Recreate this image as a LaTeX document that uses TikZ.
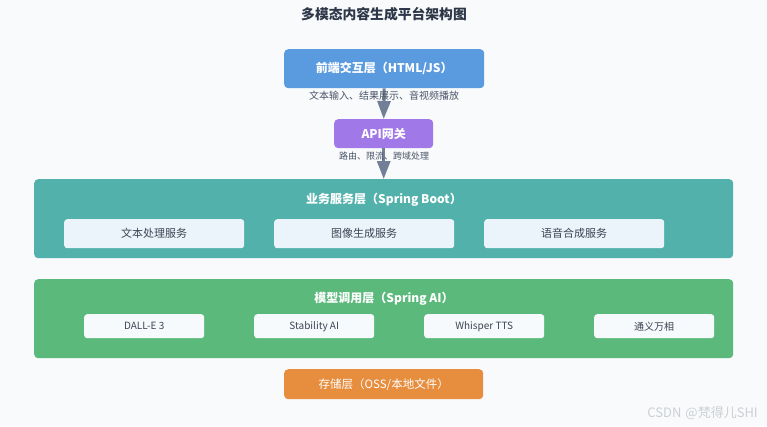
\documentclass[tikz,border=0pt]{standalone}
\usepackage{fontspec}
\setmainfont{Noto Sans CJK SC}
\usetikzlibrary{arrows.meta}
\definecolor{bg}{HTML}{F8FAFC}
\definecolor{titlec}{HTML}{2D3748}
\definecolor{frontc}{HTML}{5A9BE0}
\definecolor{apic}{HTML}{A078E8}
\definecolor{bizc}{HTML}{52B1AB}
\definecolor{modelc}{HTML}{5BBA7B}
\definecolor{storec}{HTML}{E68D3E}
\definecolor{bizsub}{HTML}{EBF4FA}
\definecolor{modsub}{HTML}{F7FAFC}
\definecolor{labelc}{HTML}{4A5568}
\definecolor{arrowc}{HTML}{718096}
\definecolor{wmc}{HTML}{CDD0D3}
\tikzset{
  box/.style={rounded corners=4pt, inner sep=0pt, font=\bfseries\fontsize{12}{14}\selectfont, text=white},
  subbox/.style={rounded corners=3pt, inner sep=0pt, fill=bizsub, font=\fontsize{11}{13}\selectfont, text=labelc!80!black},
  msubbox/.style={rounded corners=3pt, inner sep=0pt, fill=modsub, font=\fontsize{10}{12}\selectfont, text=labelc!80!black},
  lbl/.style={text=labelc, inner sep=1pt},
  conn/.style={draw=arrowc, line width=3pt, -{Triangle[length=18pt,width=13pt]}, arrowc},
}
\begin{document}
\begin{tikzpicture}[x=1pt,y=-1pt]
\useasboundingbox[fill=bg] (0,0) rectangle (767,426);
\node[font=\bfseries\fontsize{13.8}{16}\selectfont, text=titlec] (title) at (384,14) {多模态内容生成平台架构图};

% layers
\node[box, fill=bizc, minimum width=699pt, minimum height=79pt, anchor=north west] (biz) at (34,179) {};
\node[box, fill=modelc, minimum width=699pt, minimum height=79pt, anchor=north west] (model) at (34,279) {};

\node[box, fill=frontc, minimum width=200pt, minimum height=39pt, anchor=north west] (front) at (284,49) {前端交互层（HTML/JS）};
\node[box, fill=apic, minimum width=99pt, minimum height=29pt, anchor=north west] (api) at (334,119) {API网关};
\draw[conn] (front.south) -- (api.north);
\draw[conn] (api.south) -- (biz.north);

\node[lbl, font=\fontsize{10}{12}\selectfont] (flbl) at (384,96) {文本输入、结果展示、音视频播放};
\node[lbl, font=\fontsize{9}{11}\selectfont] (albl) at (384,156) {路由、限流、跨域处理};

\node[font=\bfseries\fontsize{12}{14}\selectfont, text=white] (biztitle) at (384,200) {业务服务层（Spring Boot）};
\node[subbox, minimum width=180pt, minimum height=29pt, anchor=north west] (s1) at (64,219) {文本处理服务};
\node[subbox, minimum width=180pt, minimum height=29pt, anchor=north west] (s2) at (274,219) {图像生成服务};
\node[subbox, minimum width=180pt, minimum height=29pt, anchor=north west] (s3) at (484,219) {语音合成服务};

\node[font=\bfseries\fontsize{12}{14}\selectfont, text=white] (modtitle) at (384,299) {模型调用层（Spring AI）};
\node[msubbox, minimum width=120pt, minimum height=24pt, anchor=north west] (m1) at (84,314) {DALL-E 3};
\node[msubbox, minimum width=120pt, minimum height=24pt, anchor=north west] (m2) at (254,314) {Stability AI};
\node[msubbox, minimum width=120pt, minimum height=24pt, anchor=north west] (m3) at (424,314) {Whisper TTS};
\node[msubbox, minimum width=120pt, minimum height=24pt, anchor=north west] (m4) at (594,314) {通义万相};

\node[box, fill=storec, font=\fontsize{11.5}{14}\selectfont, minimum width=199pt, minimum height=30pt, anchor=north west] (store) at (284,369) {存储层（OSS/本地文件）};

\node[font=\fontsize{13}{15}\selectfont, text=wmc, anchor=east, inner sep=0pt] (wm) at (758,413) {CSDN\hspace{4pt}@梵得儿SHI};
\end{tikzpicture}
\end{document}
